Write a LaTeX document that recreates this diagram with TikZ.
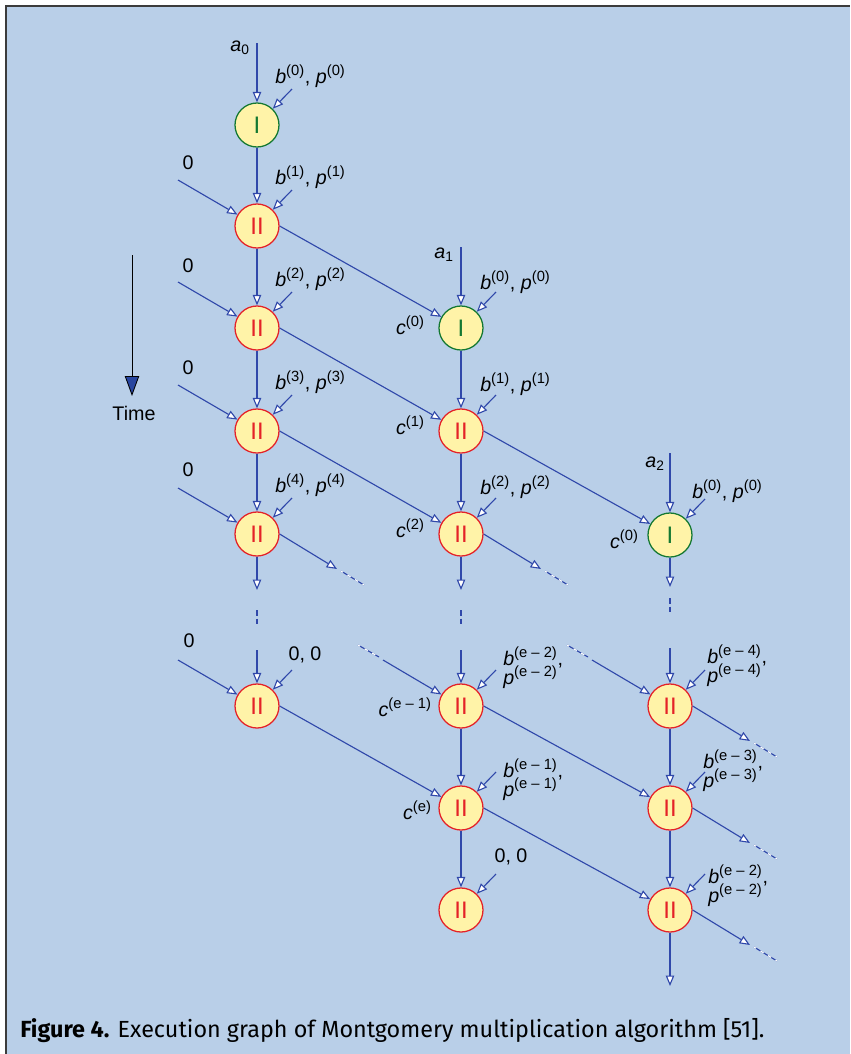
\documentclass[tikz,border=0pt]{standalone}
\usepackage{fontspec}
\setmainfont{Liberation Sans}
\newfontfamily\capfont{Fira Sans}
\usetikzlibrary{arrows.meta}

\definecolor{panelblue}{RGB}{185,207,232}
\definecolor{lineblue}{RGB}{48,72,170}
\definecolor{opfill}{RGB}{255,243,168}
\definecolor{opred}{RGB}{228,34,40}
\definecolor{opgreen}{RGB}{20,120,50}
\definecolor{framegray}{RGB}{60,60,60}
\definecolor{timeblue}{RGB}{40,70,160}

\newcommand{\idx}[1]{\textsuperscript{\fontsize{10.5}{10.5}\selectfont(#1)}}
\newcommand{\bp}[1]{\textit{b}\idx{#1}, \textit{p}\idx{#1}}

\tikzset{
  opnode/.style={circle, minimum size=1.1cm, inner sep=0pt, fill=opfill, line width=0.9pt, font=\fontsize{17}{17}\selectfont},
  opI/.style={opnode, draw=opgreen, text=opgreen},
  opII/.style={opnode, draw=opred, text=opred},
  flow/.style={draw=lineblue, line width=0.8pt, -{Triangle[length=2.6mm, width=2.1mm, fill=white]}},
  fade/.style={draw=lineblue, line width=0.8pt, postaction={draw=white, dash pattern=on 0.9mm off 1.3mm, dash phase=0.3mm}},
  vdots/.style={draw=lineblue, line width=0.8pt, dash pattern=on 1.4mm off 0.75mm},
  lbl/.style={font=\fontsize{14}{16}\selectfont, inner sep=0pt}
}

\begin{document}
\begin{tikzpicture}[x=0.025cm, y=-0.025cm]

% Panel
\useasboundingbox (0,0) rectangle (850,1054);
\fill[white] (0,0) rectangle (850,1054);
\fill[panelblue] (6,6) rectangle (850,1054);
\draw[framegray, line width=0.5mm] (6,1054) -- (6,6) -- (850,6);

% Define operations
\node[opI] (A0) at (257,125) {I};
\node[opII] (A1) at (257,226) {II};
\node[opII] (A2) at (257,328) {II};
\node[opII] (A3) at (257,431) {II};
\node[opII] (A4) at (257,534) {II};
\node[opII] (A5) at (257,706) {II};
\node[opI] (B2) at (461,328) {I};
\node[opII] (B3) at (461,431) {II};
\node[opII] (B4) at (461,534) {II};
\node[opII] (B5) at (461,706) {II};
\node[opII] (B6) at (461,808) {II};
\node[opII] (B7) at (461,910) {II};
\node[opI] (C4) at (670,535) {I};
\node[opII] (C5) at (670,706) {II};
\node[opII] (C6) at (670,808) {II};
\node[opII] (C7) at (670,910) {II};

% Define input points
\coordinate (a0) at (257,43);
\coordinate (a1) at (461,247);
\coordinate (a2) at (670,453);
\coordinate (bpA0) at (292,89);
\coordinate (bpA1) at (292,190);
\coordinate (bpA2) at (292,292);
\coordinate (bpA3) at (292,395);
\coordinate (bpA4) at (292,498);
\coordinate (bpA5) at (292,670);
\coordinate (bpB2) at (496,292);
\coordinate (bpB3) at (496,395);
\coordinate (bpB4) at (496,498);
\coordinate (bpB5) at (496,670);
\coordinate (bpB6) at (496,772);
\coordinate (bpB7) at (496,874);
\coordinate (bpC4) at (705,499);
\coordinate (bpC5) at (705,670);
\coordinate (bpC6) at (705,772);
\coordinate (bpC7) at (705,874);
\coordinate (zA1) at (178,180);
\coordinate (zA2) at (178,282);
\coordinate (zA3) at (178,385);
\coordinate (zA4) at (178,488);
\coordinate (zA5) at (178,660);

% Inputs
\draw[flow] (a0) -- (A0);
\draw[flow] (a1) -- (B2);
\draw[flow] (a2) -- (C4);
\draw[flow] (bpA0) -- (A0);
\draw[flow] (bpA1) -- (A1);
\draw[flow] (bpA2) -- (A2);
\draw[flow] (bpA3) -- (A3);
\draw[flow] (bpA4) -- (A4);
\draw[flow] (bpA5) -- (A5);
\draw[flow] (bpB2) -- (B2);
\draw[flow] (bpB3) -- (B3);
\draw[flow] (bpB4) -- (B4);
\draw[flow] (bpB5) -- (B5);
\draw[flow] (bpB6) -- (B6);
\draw[flow] (bpB7) -- (B7);
\draw[flow] (bpC4) -- (C4);
\draw[flow] (bpC5) -- (C5);
\draw[flow] (bpC6) -- (C6);
\draw[flow] (bpC7) -- (C7);
\draw[flow] (zA1) -- (A1);
\draw[flow] (zA2) -- (A2);
\draw[flow] (zA3) -- (A3);
\draw[flow] (zA4) -- (A4);
\draw[flow] (zA5) -- (A5);

% Vertical edges
\draw[flow] (A0) -- (A1);
\draw[flow] (A1) -- (A2);
\draw[flow] (A2) -- (A3);
\draw[flow] (A3) -- (A4);
\draw[flow] (B2) -- (B3);
\draw[flow] (B3) -- (B4);
\draw[flow] (B5) -- (B6);
\draw[flow] (B6) -- (B7);
\draw[flow] (C5) -- (C6);
\draw[flow] (C6) -- (C7);
\draw[flow] (C7) -- (670,986);

% Vertical gaps
\draw[flow] (A4) -- (257,590);
\draw[vdots] (257,610) -- (257,624);
\draw[flow] (257,650) -- (A5);
\draw[flow] (B4) -- (461,590);
\draw[vdots] (461,610) -- (461,624);
\draw[flow] (461,650) -- (B5);
\draw[flow] (C4) -- (670,587);
\draw[vdots] (670,598) -- (670,612);
\draw[flow] (670,648) -- (C5);

% Diagonal edges
\draw[flow] (A1.east) -- (B2);
\draw[flow] (A2.east) -- (B3);
\draw[flow] (A3.east) -- (B4);
\draw[flow] (B3.east) -- (C4);
\draw[flow] (A5.east) -- (B6);
\draw[flow] (B5.east) -- (C6);
\draw[flow] (B6.east) -- (C7);

% Diagonal gaps
\draw[flow] (A4.east) -- (337,569);
\draw[fade] (341,571) -- (364,585);
\draw[flow] (B4.east) -- (541,569);
\draw[fade] (545,571) -- (568,585);
\draw[flow] (C5.east) -- (750,741);
\draw[fade] (754,743) -- (777,757);
\draw[flow] (C6.east) -- (750,843);
\draw[fade] (754,845) -- (777,859);
\draw[flow] (C7.east) -- (750,945);
\draw[fade] (754,947) -- (777,961);
\draw[fade] (358,645) -- (379,657);
\draw[flow] (383,660) -- (B5);
\draw[fade] (567,645) -- (588,657);
\draw[flow] (592,660) -- (C5);

% Time
\draw[black, line width=0.6pt, -{Triangle[length=5mm, width=3.6mm, fill=timeblue]}] (132,255) -- (132,396);
\node[lbl] at (134,413) {Time};

% Labels
\node[lbl] at (240,48) {\textit{a}\textsubscript{0}};
\node[lbl] at (444,255) {\textit{a}\textsubscript{1}};
\node[lbl] at (655,464) {\textit{a}\textsubscript{2}};
\node[lbl, anchor=base west] at (275,83) {\bp{0}};
\node[lbl, anchor=base west] at (275,184) {\bp{1}};
\node[lbl, anchor=base west] at (275,286) {\bp{2}};
\node[lbl, anchor=base west] at (275,389) {\bp{3}};
\node[lbl, anchor=base west] at (275,492) {\bp{4}};
\node[lbl, anchor=base west] at (480,289) {\bp{0}};
\node[lbl, anchor=base west] at (480,391) {\bp{1}};
\node[lbl, anchor=base west] at (480,494) {\bp{2}};
\node[lbl, anchor=base west] at (692,498) {\bp{0}};
\node[lbl] at (188,163) {0};
\node[lbl] at (188,266) {0};
\node[lbl] at (188,368) {0};
\node[lbl] at (188,470) {0};
\node[lbl] at (189,641) {0};
\node[lbl] at (305,655) {0, 0};
\node[lbl] at (511,857) {0, 0};
\node[lbl, anchor=base east] at (425,334) {\textit{c}\idx{0}};
\node[lbl, anchor=base east] at (425,434) {\textit{c}\idx{1}};
\node[lbl, anchor=base east] at (425,537) {\textit{c}\idx{2}};
\node[lbl, anchor=base east] at (639,548) {\textit{c}\idx{0}};
\node[lbl, anchor=base east] at (432,716) {\textit{c}\idx{e – 1}};
\node[lbl, anchor=base east] at (432,819) {\textit{c}\idx{e}};
\node[lbl, anchor=base west] at (503,665) {\textit{b}\idx{e – 2},};
\node[lbl, anchor=base west] at (503,684) {\textit{p}\idx{e – 2}};
\node[lbl, anchor=base west] at (503,777) {\textit{b}\idx{e – 1},};
\node[lbl, anchor=base west] at (503,796) {\textit{p}\idx{e – 1}};
\node[lbl, anchor=base west] at (707,663) {\textit{b}\idx{e – 4},};
\node[lbl, anchor=base west] at (707,682) {\textit{p}\idx{e – 4}};
\node[lbl, anchor=base west] at (703,768) {\textit{b}\idx{e – 3},};
\node[lbl, anchor=base west] at (703,787) {\textit{p}\idx{e – 3}};
\node[lbl, anchor=base west] at (708,883) {\textit{b}\idx{e – 2},};
\node[lbl, anchor=base west] at (708,902) {\textit{p}\idx{e – 2}};

% Caption
\node[anchor=base west, inner sep=0pt, font=\capfont\fontsize{16.6}{20}\selectfont] at (20,1037) {\textbf{Figure 4.} Execution graph of Montgomery multiplication algorithm [51].};

\end{tikzpicture}
\end{document}
